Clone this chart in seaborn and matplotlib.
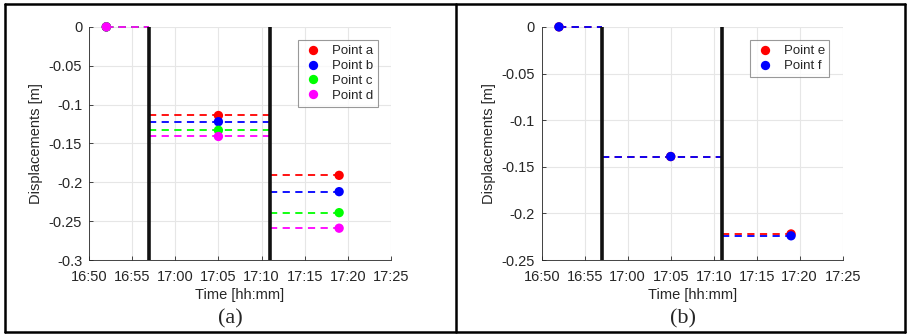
import numpy as np
import pandas as pd
import matplotlib
matplotlib.use("Agg")
import matplotlib.pyplot as plt
import matplotlib.dates as mdates
from matplotlib.lines import Line2D
import seaborn as sns

# Measurement times and the interval each value holds over
obs_times = ["16:52", "17:05", "17:19"]
edges = ["16:52", "16:57", "17:11", "17:19"]
event_times = ["16:57", "17:11"]

# Panel (a) displacements [m]
points_a = ["Point a", "Point b", "Point c", "Point d"]
disp_a = {
    "Point a": [0.0, -0.114, -0.191],
    "Point b": [0.0, -0.122, -0.212],
    "Point c": [0.0, -0.133, -0.239],
    "Point d": [0.0, -0.141, -0.259],
}
colors_a = ["#ff0000", "#0000ff", "#00ff00", "#ff00ff"]

# Panel (b) displacements [m]
points_b = ["Point e", "Point f"]
disp_b = {
    "Point e": [0.0, -0.139, -0.222],
    "Point f": [0.0, -0.139, -0.224],
}
colors_b = ["#ff0000", "#0000ff"]

sns.set_theme(style="white")
plt.rcParams["font.family"] = ["Liberation Sans", "DejaVu Sans"]
plt.rcParams["axes.labelcolor"] = "#262626"


def to_time(s):
    return pd.Timestamp("2020-01-01 " + s)


def draw_panel(ax, names, disp, colors, ylim, yticks):
    rows = []
    for name in names:
        for t, v in zip(obs_times, disp[name]):
            rows.append({"time": to_time(t), "disp": v, "point": name})
    df = pd.DataFrame(rows)

    # dashed segments across each interval
    for name, c in zip(names, colors):
        for i, v in enumerate(disp[name]):
            ax.plot([to_time(edges[i]), to_time(edges[i + 1])], [v, v],
                    ls=(0, (4, 3)), color=c, lw=1.3, zorder=2, clip_on=False)
    sns.scatterplot(data=df, x="time", y="disp", hue="point", hue_order=names,
                    palette=colors, s=45, edgecolor="none", ax=ax, zorder=3,
                    clip_on=False)

    for t in event_times:
        ax.axvline(to_time(t), color="#111111", lw=2.6, zorder=4)

    ax.set_xlim(to_time("16:50"), to_time("17:25"))
    ax.set_xticks([to_time(f"{h}:{m:02d}") for h, m in
                   [(16, 50), (16, 55), (17, 0), (17, 5), (17, 10), (17, 15), (17, 20), (17, 25)]])
    ax.xaxis.set_major_formatter(mdates.DateFormatter("%H:%M"))
    ax.set_ylim(*ylim)
    ax.set_yticks(yticks)
    ax.set_yticklabels([("%g" % v) for v in yticks])
    ax.grid(True, color="#e6e6e6", lw=0.8)
    ax.set_axisbelow(True)
    for side in ["top", "right"]:
        ax.spines[side].set_visible(False)
    for side in ["left", "bottom"]:
        ax.spines[side].set_color("#262626")
        ax.spines[side].set_linewidth(0.6)
    ax.tick_params(direction="in", length=3, width=0.6, colors="#262626",
                   labelsize=10.5, bottom=True, left=True)
    ax.tick_params(axis="x", pad=7)
    ax.tick_params(axis="y", pad=5)
    ax.set_xlabel("Time [hh:mm]", fontsize=10.5, labelpad=3)
    ax.set_ylabel("Displacements [m]", fontsize=10.5, labelpad=4)

    leg = ax.legend(loc="upper right", bbox_to_anchor=(0.978, 0.97), fontsize=9.5,
                    frameon=True, fancybox=False, handletextpad=0.6,
                    borderpad=0.35, labelspacing=0.2, handlelength=1.6,
                    markerscale=1.0)
    leg.get_frame().set_edgecolor("#808080")
    leg.get_frame().set_linewidth(0.8)


fig = plt.figure(figsize=(9.09, 3.36), dpi=100)
ax_a = fig.add_axes([0.098, 0.226, 0.332, 0.694])
ax_b = fig.add_axes([0.596, 0.226, 0.331, 0.694])

draw_panel(ax_a, points_a, disp_a, colors_a, (-0.3, 0),
           [-0.3, -0.25, -0.2, -0.15, -0.1, -0.05, 0])
draw_panel(ax_b, points_b, disp_b, colors_b, (-0.25, 0),
           [-0.25, -0.2, -0.15, -0.1, -0.05, 0])

fig.text(0.253, 0.022, "(a)", family="Liberation Serif", fontsize=16,
         ha="center", va="bottom")
fig.text(0.751, 0.022, "(b)", family="Liberation Serif", fontsize=16,
         ha="center", va="bottom")

# outer frame and panel divider
for xs, ys in [([0.005, 0.996], [0.988, 0.988]), ([0.005, 0.996], [0.012, 0.012]),
               ([0.005, 0.005], [0.012, 0.988]), ([0.996, 0.996], [0.012, 0.988]),
               ([0.502, 0.502], [0.012, 0.988])]:
    fig.add_artist(Line2D(xs, ys, color="black", lw=1.8, transform=fig.transFigure))

fig.savefig("out.png", dpi=100)
